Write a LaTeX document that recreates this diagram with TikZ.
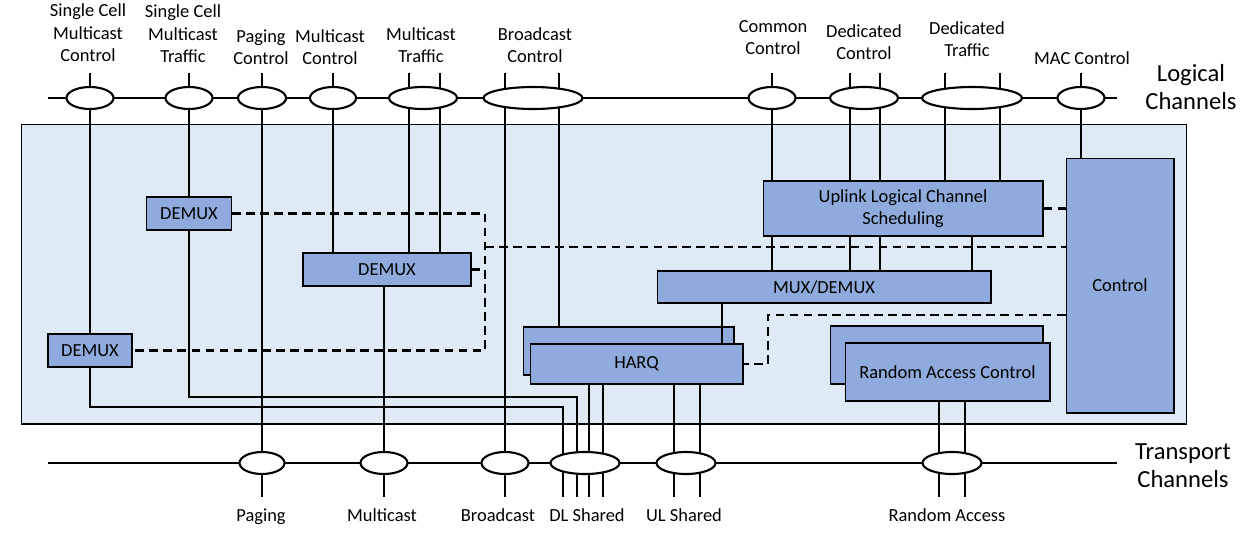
\documentclass[tikz,border=0pt]{standalone}
\usepackage{fontspec}
\setmainfont{Carlito}
\usepackage{xcolor}
\usepackage{tikz}
\usetikzlibrary{shapes.geometric, positioning, backgrounds}
\definecolor{macfill}{RGB}{222,235,247}
\definecolor{blkfill}{RGB}{143,170,220}
\tikzset{
    chan/.style={ellipse, draw, line width=1.2pt, fill=white, minimum height=0.44cm, inner sep=0pt},
    blk/.style={rectangle, draw, line width=0.6pt, fill=blkfill, align=center, inner sep=0pt, font=\fontsize{10.5}{12.5}\selectfont},
    lab/.style={align=center, inner sep=0pt, font=\fontsize{10.5}{12.8}\selectfont},
    biglab/.style={align=center, inner sep=0pt, font=\fontsize{14}{16}\selectfont},
    link/.style={line width=1.25pt},
    ctrl/.style={line width=1.25pt, dash pattern=on 5pt off 3pt}
}

\begin{document}
\begin{tikzpicture}[x=0.02cm, y=-0.02cm]
    \useasboundingbox (0,0) rectangle (1250,535);
    % MAC entity
    \begin{scope}[on background layer]
    \node[draw, line width=0.6pt, fill=macfill, minimum width=23.32cm, minimum height=6cm, inner sep=0pt] (mac) at (604,274) {};
    \end{scope}
    % Channel bars and line ends
    \coordinate (lbarL) at (48,98); \coordinate (lbarR) at (1117,98);
    \coordinate (tbarL) at (48,463); \coordinate (tbarR) at (1117,463);
    \foreach \n/\x in {scmc/90, scmt/189, pgc/262, mcc/333, mct1/409, mct2/440, bcc1/505, bcc2/559, ccc/772, dcc1/850, dcc2/880, dtc1/945, dtc2/1000, macc/1081}
        \coordinate (top\n) at (\x,73);
    \foreach \n/\x in {pg/262, mc/384, bc/505, dl1/563, dl2/577, dl3/589, dl4/603, ul1/674, ul2/700, ra1/939, ra2/965}
        \coordinate (\n) at (\x,497);
    \coordinate (dsplit) at (485,247);
    \coordinate (hbend) at (768,315);
    \coordinate (harqin) at (722,0);

    % Logical channels
    \foreach \n/\x/\w in {scmc/90/0.94, scmt/189/0.94, pgc/262/0.96, mcc/333/0.92, mct/423/1.36, bcc/533/1.98, ccc/772/0.94, dcc/864/1.36, dtc/972/2.0, macc/1081/0.94}
        \node[chan, minimum width=\w cm] (\n) at (\x,98) {};
    % Transport channels
    \foreach \n/\x/\w in {pch/262/0.9, mch/384/0.94, bch/505/0.94, dlsch/585/1.38, ulsch/686/1.18, rach/952/1.18}
        \node[chan, minimum width=\w cm] (\n) at (\x,463) {};

    % Labels
    \node[lab, anchor=south] (scmcT) at (88,62) {Single Cell\\Multicast\\Control};
    \node[lab, anchor=south] (scmtT) at (183,63) {Single Cell\\Multicast\\Traffic};
    \node[lab, anchor=south] (pgcT) at (261,65) {Paging\\Control};
    \node[lab, anchor=south] (mccT) at (330,65) {Multicast\\Control};
    \node[lab, anchor=south] (mctT) at (421,63) {Multicast\\Traffic};
    \node[lab, anchor=south] (bccT) at (535,63) {Broadcast\\Control};
    \node[lab, anchor=south] (cccT) at (773,55) {Common\\Control};
    \node[lab, anchor=south] (dccT) at (864,60) {Dedicated\\Control};
    \node[lab, anchor=south] (dtcT) at (967,57) {Dedicated\\Traffic};
    \node[lab, anchor=south] (maccT) at (1082,65) {MAC Control};
    \node[biglab, anchor=south] (logT) at (1191,110) {Logical\\Channels};
    \node[biglab, anchor=south] (trT) at (1183,488) {Transport\\Channels};
    \node[lab, anchor=base] (pchT) at (261,521) {Paging};
    \node[lab, anchor=base] (mchT) at (382,521) {Multicast};
    \node[lab, anchor=base] (bchT) at (498,521) {Broadcast};
    \node[lab, anchor=base] (dlschT) at (587,521) {DL Shared};
    \node[lab, anchor=base] (ulschT) at (684,521) {UL Shared};
    \node[lab, anchor=base] (rachT) at (947,521) {Random Access};

    % MAC blocks
    \node[blk, minimum width=1.70cm, minimum height=0.66cm] (demuxA) at (189,213.5) {DEMUX};
    \node[blk, minimum width=3.36cm, minimum height=0.66cm] (demuxB) at (387,269.5) {DEMUX};
    \node[blk, minimum width=1.68cm, minimum height=0.66cm] (demuxC) at (90,350.5) {DEMUX};
    \node[blk, minimum width=5.6cm, minimum height=1.1cm] (ulcs) at (903,208.5) {Uplink Logical Channel\\Scheduling};
    \node[blk, minimum width=6.68cm, minimum height=0.64cm] (mux) at (824,287) {MUX/DEMUX};
    \node[blk, minimum width=2.16cm, minimum height=5.1cm] (ctl) at (1120,285.5) {Control};
    \node[blk, minimum width=4.22cm, minimum height=0.96cm] (harqB) at (628.5,351) {};
    \node[blk, minimum width=4.26cm, minimum height=0.8cm] (harq) at (636.5,364) {HARQ};
    \node[blk, minimum width=4.26cm, minimum height=1.16cm] (racB) at (936.5,355) {};
    \node[blk, minimum width=4.1cm, minimum height=1.16cm] (rac) at (947.5,372) {Random Access Control};

    % Connections
    \begin{scope}[on background layer]
    \draw[link] (lbarL) -- (lbarR);
    \draw[link] (tbarL) -- (tbarR);
    \draw[link] (topscmc) -- (demuxC.north);
    \draw[link] (demuxC.south) |- (dl1 |- 0,407) -- (dl1);
    \draw[link] (topscmt) -- (demuxA.north);
    \draw[link] (demuxA.south) |- (dl2 |- 0,397) -- (dl2);
    \draw[link] (toppgc) -- (pg);
    \foreach \c in {topmcc, topmct1, topmct2}
        \draw[link] (\c) -- (\c |- demuxB.north);
    \draw[link] (demuxB.south -| mc) -- (mc);
    \draw[link] (topbcc1) -- (bc);
    \draw[link] (topbcc2) -- (topbcc2 |- harqB.north);
    \foreach \c in {topccc, topdcc1, topdcc2, topdtc1, topdtc2}
        \draw[link] (\c) -- (\c |- ulcs.north);
    \draw[link] (topmacc) -- (topmacc |- ctl.north);
    \foreach \c in {topccc, topdcc1, topdcc2, dtc}
        \draw[link] (\c |- ulcs.south) -- (\c |- mux.north);
    \foreach \c in {dl3, dl4, ul1, ul2}
        \draw[link] (\c |- harq.south) -- (\c);
    \foreach \c in {ra1, ra2}
        \draw[link] (\c |- rac.south) -- (\c);
    % Control paths
    \draw[ctrl] (demuxA.east) -| (dsplit) |- (demuxC.east);
    \draw[ctrl] (demuxB.east) -- (dsplit |- demuxB.east);
    \draw[ctrl] (dsplit) -- (dsplit -| ctl.west);
    \draw[ctrl] (ulcs.east) -- (ulcs.east -| ctl.west);
    \draw[ctrl] (hbend -| ctl.west) -- (hbend) |- (harq.east);
    \end{scope}
    \draw[link] (harqin |- mux.south) -- (harqin |- harq.north);
\end{tikzpicture}
\end{document}
